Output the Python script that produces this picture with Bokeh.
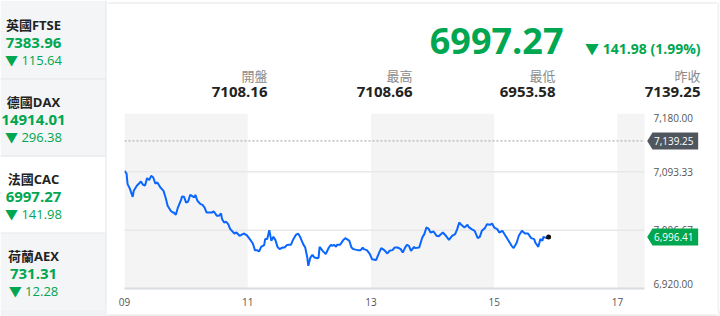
from bokeh.plotting import figure
from bokeh.models import Range1d, FixedTicker, BoxAnnotation, LinearAxis
from bokeh.layouts import row, column
from bokeh.embed import file_html
from bokeh.resources import INLINE
from bokeh.core.properties import value

# ---------------- data ----------------
index_names = ["英國FTSE", "德國DAX", "法國CAC", "荷蘭AEX"]
index_values = [7383.96, 14914.01, 6997.27, 731.31]
index_changes = [115.64, 296.38, 141.98, 12.28]
selected_index = 2

last_price = 6997.27
change_abs = 141.98
change_pct = 1.99
stat_labels = ["開盤", "最高", "最低", "昨收"]
stat_values = [7108.16, 7108.66, 6953.58, 7139.25]
prev_close = 7139.25
last_tick = 6996.41

y_ticks = [6920.00, 7006.67, 7093.33, 7180.00]
x_ticks = [9, 11, 13, 15, 17]
x_tick_labels = ["09", "11", "13", "15", "17"]
session_start, session_end = 9.0, 17.44

# minutes after 09:00 and index level
minutes = [0, 2, 3, 5, 8, 9, 12, 16, 18, 20,
           22, 24, 26, 28, 30, 32, 35, 38, 40, 42,
           45, 47, 48, 50, 52, 55, 56, 58, 60, 62,
           64, 66, 68, 69, 71, 74, 76, 78, 80, 82,
           85, 87, 90, 92, 94, 95, 97, 99, 101, 103,
           107, 109, 112, 116, 119, 122, 125, 127, 129, 131,
           133, 136, 137, 139, 141, 143, 145, 147, 149, 151,
           154, 156, 158, 160, 162, 164, 167, 169, 171, 174,
           176, 178, 179, 181, 183, 185, 188, 189, 190, 193,
           196, 199, 201, 202, 204, 206, 207, 210, 213, 215,
           218, 219, 221, 223, 227, 230, 232, 233, 236, 239,
           241, 245, 248, 250, 253, 256, 258, 261, 263, 266,
           269, 271, 273, 275, 277, 279, 282, 283, 287, 290,
           292, 294, 296, 298, 301, 304, 306, 310, 313, 316,
           319, 322, 324, 326, 328, 331, 334, 335, 338, 341,
           344, 346, 348, 351, 353, 356, 358, 360, 363, 365,
           368, 371, 374, 377, 379, 382, 384, 387, 390, 393,
           396, 399, 400, 403, 405, 407, 408, 411, 413]
prices = [7094.9, 7090.8, 7075.1, 7069.1, 7056.2, 7065.1, 7072.6, 7079.0, 7074.0, 7073.0,
          7084.0, 7081.0, 7087.4, 7084.9, 7076.0, 7077.5, 7070.0, 7065.1, 7055.2, 7042.8,
          7035.4, 7032.9, 7032.9, 7029.5, 7040.3, 7051.3, 7056.7, 7056.2, 7047.7, 7049.2,
          7059.2, 7057.3, 7055.2, 7059.2, 7050.3, 7045.4, 7044.3, 7040.3, 7032.9, 7032.9,
          7032.9, 7034.4, 7028.0, 7028.0, 7031.4, 7023.1, 7018.0, 7019.1, 7015.6, 7008.2,
          7001.7, 7003.2, 6998.3, 7001.7, 6999.3, 6993.4, 6986.8, 6977.0, 6977.0, 6974.9,
          6981.9, 6984.4, 6993.4, 6993.4, 7006.7, 6990.8, 6996.8, 6991.9, 6981.9, 6978.5,
          6980.9, 6980.9, 6984.4, 6984.9, 6984.9, 6991.9, 6999.7, 7001.7, 6996.8, 6985.9,
          6980.9, 6966.0, 6953.6, 6966.0, 6970.0, 6966.0, 6965.1, 6966.0, 6981.9, 6976.0,
          6971.1, 6980.9, 6984.9, 6983.4, 6984.9, 6981.9, 6984.9, 6984.9, 6991.9, 6994.8,
          6991.9, 6990.8, 6980.9, 6978.5, 6977.0, 6977.0, 6980.9, 6978.5, 6977.0, 6971.1,
          6963.6, 6962.2, 6973.4, 6980.0, 6977.0, 6972.0, 6976.0, 6977.0, 6980.9, 6980.9,
          6978.5, 6973.4, 6980.0, 6984.9, 6983.4, 6976.0, 6981.9, 6980.0, 6980.9, 6995.7,
          7000.8, 7010.6, 7009.1, 7003.2, 7004.7, 6998.3, 6997.5, 7003.2, 6998.3, 6992.3,
          6998.3, 7000.8, 7008.2, 7018.0, 7014.6, 7010.6, 7014.6, 7011.6, 7008.2, 7005.7,
          6994.8, 6996.8, 7005.7, 7009.7, 7015.6, 7014.6, 7016.5, 7010.6, 7008.2, 7003.2,
          7005.7, 6998.3, 6990.8, 6983.4, 6980.0, 6988.3, 6998.3, 7005.7, 7001.7, 7001.7,
          6994.8, 6993.4, 6988.3, 6981.9, 6993.4, 6990.8, 6996.8, 6994.8, 6996.41]

hours = [9 + m / 60.0 for m in minutes]

# ---------------- style ----------------
FONT = "Open Sans, Noto Sans CJK TC"
CJK = "Noto Sans CJK TC"
GREEN = "#00a650"
DARK = "#222222"
PANEL_BG = "#f4f5f7"
PAGE_BG = "#f1f2f4"
BORDER = "#e2e4e8"
AXIS_FONT_SIZE = "10px"
W, H = 720, 316
LEFT_W = 107
STRIP_W = 3
RW = W - LEFT_W - STRIP_W
HEADER_H = 110
FOOT_H = 7
CHART_H = H - HEADER_H - FOOT_H


def blank(fig, bg="white"):
    fig.axis.visible = False
    fig.grid.visible = False
    fig.outline_line_color = None
    fig.min_border = 0
    fig.min_border_left = 0
    fig.min_border_right = 0
    fig.min_border_top = 0
    fig.min_border_bottom = 0
    fig.background_fill_color = bg
    fig.border_fill_color = bg


def canvas_fig(w, h, x0=0):
    return figure(width=w, height=h, x_range=Range1d(x0, x0 + w), y_range=Range1d(h, 0),
                  toolbar_location=None, output_backend="svg", min_border=0)


# ---------------- left panel ----------------
left = canvas_fig(LEFT_W, H)
blank(left)
pitch = 77
box_top = [2 + i * pitch for i in range(len(index_names))]
box_bot = [t + pitch for t in box_top]
box_bot[-1] = 309
fills = ["white" if i == selected_index else PANEL_BG for i in range(len(index_names))]
left.quad(left=0, right=105, top=[0] + box_top[1:], bottom=box_bot, fill_color=fills, line_color=None)
left.segment(x0=0, x1=105, y0=[t - 0.5 for t in box_top[1:]], y1=[t - 0.5 for t in box_top[1:]],
             line_color=BORDER, line_width=1)
left.segment(x0=[105.5], x1=[105.5], y0=[0], y1=[309], line_color=BORDER, line_width=1)
left.quad(left=0, right=LEFT_W, top=309, bottom=H, fill_color=PAGE_BG, line_color=None)

cx = [33] * len(index_names)
left.text(x=cx, y=[t + 22.5 for t in box_top], text=index_names, text_align="center",
          text_baseline="middle", text_font=value(FONT), text_font_style="bold",
          text_font_size="13px", text_color=DARK)
left.text(x=cx, y=[t + 40.5 for t in box_top], text=[f"{v:.2f}" for v in index_values],
          text_align="center", text_baseline="middle", text_font=value(FONT),
          text_font_style="bold", text_font_size="15px", text_color=GREEN)
left.text(x=cx, y=[t + 57.5 for t in box_top], text=[f"▼ {c:.2f}" for c in index_changes],
          text_align="center", text_baseline="middle", text_font=value(FONT),
          text_font_size="13px", text_color=GREEN)

# ---------------- header ----------------
header = canvas_fig(RW, HEADER_H, LEFT_W)
blank(header)
header.segment(x0=[LEFT_W], x1=[LEFT_W + RW], y0=[2.5], y1=[2.5], line_color=BORDER, line_width=1)
header.text(x=[563], y=[40.5], text=[f"{last_price:.2f}"], text_align="right",
            text_baseline="middle", text_font=value(FONT), text_font_style="bold",
            text_font_size="36px", text_color=GREEN)
header.text(x=[700], y=[48], text=[f"▼ {change_abs:.2f} ({change_pct:.2f}%)"], text_align="right",
            text_baseline="middle", text_font=value(FONT), text_font_style="bold",
            text_font_size="14px", text_color=GREEN)
stat_x = [267, 412, 555, 700]
header.text(x=stat_x, y=[75] * 4, text=stat_labels, text_align="right", text_baseline="middle",
            text_font=value(CJK), text_font_size="13px", text_color="#8a8a8a")
header.text(x=stat_x, y=[91.5] * 4, text=[f"{v:.2f}" for v in stat_values], text_align="right",
            text_baseline="middle", text_font=value(FONT), text_font_style="bold",
            text_font_size="15px", text_color=DARK)

# ---------------- chart ----------------
MB_L, MB_T, MB_B = 17, 3, 21
SESSION_PX = 520                       # width of the trading-session part of the frame
frame_w = RW - MB_L                    # frame runs on under the price scale
frame_h = CHART_H - MB_T - MB_B
xpp = (session_end - session_start) / SESSION_PX
y0, y1 = y_ticks[0], y_ticks[-1]
ypp = (y1 - y0) / frame_h
x_view_end = session_start + frame_w * xpp

chart = figure(width=RW, height=CHART_H, x_range=Range1d(session_start, x_view_end),
               y_range=Range1d(y0, y1), toolbar_location=None, output_backend="svg",
               y_axis_location=None)
chart.min_border_left = MB_L
chart.min_border_right = 0
chart.min_border_top = MB_T
chart.min_border_bottom = MB_B
chart.outline_line_color = None
chart.background_fill_color = "white"
chart.border_fill_color = "white"
chart.xgrid.visible = False
chart.ygrid.visible = False

# alternating 2-hour bands
for i in range(0, len(x_ticks), 2):
    r = x_ticks[i + 1] if i + 1 < len(x_ticks) else session_end
    chart.add_layout(BoxAnnotation(left=x_ticks[i], right=r, fill_color="#f4f4f4", fill_alpha=1,
                                   line_color=None, level="image"))

# horizontal grid lines over the session
grid_levels = y_ticks[1:-1]
chart.segment(x0=session_start, x1=session_end, y0=grid_levels, y1=grid_levels,
              line_color="#e8e8e8", line_width=1.5)

# previous close
chart.line([session_start, session_end], [prev_close, prev_close], line_color="#a0a0a0",
           line_dash="2 2", line_width=1)

chart.line(hours, prices, line_color="#0a66ff", line_width=2)
chart.scatter([hours[-1]], [prices[-1]], size=5, fill_color="#111111", line_color=None)

# x axis
xa = chart.xaxis[0]
xa.ticker = FixedTicker(ticks=x_ticks)
xa.bounds = (session_start, session_end)
xa.major_label_overrides = {t: lab for t, lab in zip(x_ticks, x_tick_labels)}
xa.major_label_text_align = "left"
xa.major_tick_line_color = None
xa.minor_tick_line_color = None
xa.axis_line_color = "#d8dbe0"
xa.axis_line_width = 2
xa.major_label_standoff = 3
xa.major_label_text_font = FONT
xa.major_label_text_font_size = AXIS_FONT_SIZE
xa.major_label_text_color = "#555555"

# price scale, fixed at the session end
nudge = 4.5 * ypp
label_pos = [y_ticks[0] + nudge] + y_ticks[1:-1] + [y_ticks[-1] - nudge]
ya = LinearAxis(fixed_location=session_end)
ya.ticker = FixedTicker(ticks=label_pos)
ya.major_label_overrides = {p: f"{t:,.2f}" for p, t in zip(label_pos, y_ticks)}
ya.major_tick_line_color = None
ya.minor_tick_line_color = None
ya.axis_line_color = None
ya.major_tick_out = 0
ya.major_tick_in = 0
ya.major_label_standoff = 9
ya.major_label_text_font = FONT
ya.major_label_text_font_size = AXIS_FONT_SIZE
ya.major_label_text_color = "#555555"
chart.add_layout(ya, "right")


def price_tag(level, color):
    half = 8.5 * ypp
    xs0 = session_end + 2.7 * xpp
    xs1 = session_end + 8 * xpp
    xs2 = session_end + 53.7 * xpp
    chart.patches(xs=[[xs0, xs1, xs2, xs2, xs1]],
                  ys=[[level, level + half, level + half, level - half, level - half]],
                  fill_color=color, line_color=None, level="overlay")
    chart.text(x=[session_end + 9.5 * xpp], y=[level], text=[f"{level:,.2f}"],
               text_baseline="middle", text_align="left", text_color="white",
               text_font=value(FONT), text_font_size=AXIS_FONT_SIZE, level="overlay")


price_tag(prev_close, "#50565e")
price_tag(last_tick, GREEN)

# ---------------- footer & right strip ----------------
footer = canvas_fig(RW, FOOT_H, LEFT_W)
blank(footer, PAGE_BG)
footer.quad(left=LEFT_W, right=LEFT_W + RW, top=0, bottom=1, fill_color=BORDER, line_color=None)

strip = canvas_fig(STRIP_W, H)
blank(strip)
strip.quad(left=0, right=1, top=2, bottom=310, fill_color=BORDER, line_color=None)
strip.quad(left=0, right=STRIP_W, top=310, bottom=H, fill_color=PAGE_BG, line_color=None)

right_col = column(row(header), row(chart), row(footer), spacing=0)
page = row(left, right_col, strip, spacing=0)

with open("out.html", "w") as f:
    f.write(file_html(page, INLINE))
